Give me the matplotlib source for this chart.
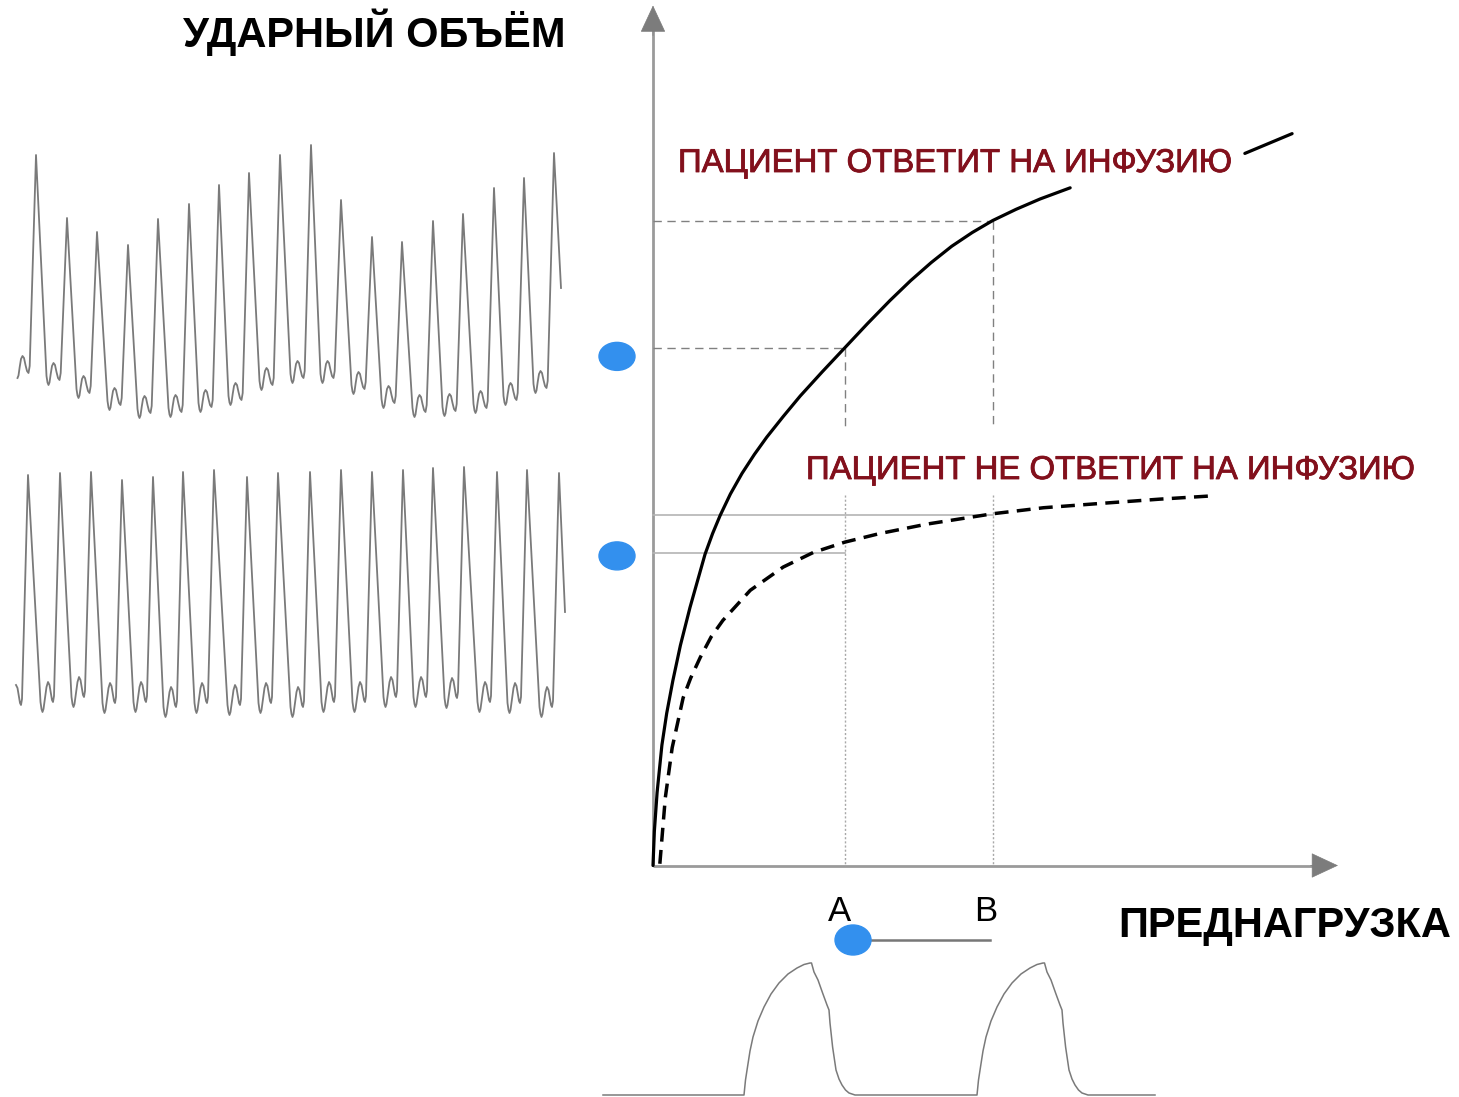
import numpy as np
import matplotlib
matplotlib.use("Agg")
import matplotlib.pyplot as plt
from matplotlib.patches import Ellipse
import matplotlib.patheffects as pe

plt.rcParams['font.family'] = ['Liberation Sans', 'DejaVu Sans']

# ------------------------------------------------------------------ data
# Frank–Starling curves (preload vs stroke volume, arbitrary units)
resp_x = [0.00, 0.02, 0.06, 0.13, 0.20, 0.29, 0.40, 0.54, 0.76, 0.87, 0.98,
          1.13, 1.30, 1.48, 1.66, 1.90, 2.15, 2.47, 2.80, 3.13, 3.46, 3.76,
          4.06, 4.36, 4.66, 4.96, 5.30, 5.65, 6.09, 8.64, 9.33]
resp_y = [0.00, 0.40, 0.85, 1.40, 1.77, 2.15, 2.56, 3.00, 3.62, 3.86, 4.07,
          4.32, 4.56, 4.78, 4.98, 5.22, 5.46, 5.74, 6.02, 6.30, 6.57, 6.80,
          7.01, 7.20, 7.36, 7.50, 7.63, 7.75, 7.88, 8.28, 8.51]
resp_hidden = (6.09, 8.64)          # part of curve hidden behind its label

nonresp_x = [0.10, 0.18, 0.28, 0.44, 0.55, 0.69, 0.85, 1.02, 1.42, 1.90, 2.34,
             2.80, 3.31, 4.00, 4.96, 5.70, 6.53, 7.40, 8.20]
nonresp_y = [0.02, 0.79, 1.37, 1.95, 2.18, 2.42, 2.66, 2.85, 3.20, 3.47, 3.64,
             3.76, 3.86, 3.97, 4.09, 4.16, 4.21, 4.26, 4.30]

preload_A = 2.80
preload_B = 4.96
sv_resp = [6.02, 7.50]        # responder SV at A, B
sv_nonresp = [3.63, 4.08]     # non-responder SV at A, B
sv_dots = [5.92, 3.60]        # blue markers beside the SV axis
axis_max = 10.0

labels = {
    'sv': 'УДАРНЫЙ ОБЪЁМ',
    'preload': 'ПРЕДНАГРУЗКА',
    'resp': 'ПАЦИЕНТ ОТВЕТИТ НА ИНФУЗИЮ',
    'nonresp': 'ПАЦИЕНТ НЕ ОТВЕТИТ НА ИНФУЗИЮ',
    'A': 'A',
    'B': 'B',
}

# arterial pressure waveform with respiratory variation (time, amplitude)
top_peak_t = [36, 67, 97, 128, 158, 189, 219, 249, 280, 311, 341, 372, 402,
              433, 463, 494, 524, 554]
top_peak_a = [275, 212, 198, 185, 211, 226, 245, 257, 275, 285, 230, 193, 188,
              209, 216, 242, 252, 277]
top_trough_a = [52, 45, 32, 20, 12, 13, 18, 25, 40, 47, 47, 36, 22, 13, 14,
                17, 25, 37]
top_end = (561, 142)
# beat shape before each systolic peak: (time offset, height above trough)
top_beat_dt = [-20.5, -19.5, -18.5, -17.5, -16.3, -15, -13.5, -12, -10.5, -9,
               -7.5, -6.3]
top_beat_da = [9, 2.5, 0, 2.5, 11, 19, 22, 20, 13, 7, 5, 12]

# arterial pressure waveform without variation
bot_peak_t = [28, 60, 91, 122, 153, 183, 214, 247, 278, 310, 341, 372, 403,
              433, 464, 497, 527, 559]
bot_peak_a = [255, 257, 258, 250, 253, 258, 260, 253, 257, 258, 260, 258, 260,
              262, 263, 258, 260, 257]
bot_trough_a = [15, 18, 23, 17, 18, 13, 17, 15, 17, 13, 18, 18, 23, 23, 22,
                18, 17, 13]
bot_end = (565, 118)
bot_beat_dt = [-19.5, -18.5, -17.5, -16.5, -15, -13.5, -12, -10.5, -9, -8,
               -7, -6]
bot_beat_da = [10, 3, 0, 3, 14, 25, 30, 27, 18, 12, 10, 16]

# airway pressure (ventilator) breaths
vent_breath_t = [154, 387]
vent_dt = [0, 1.5, 3.5, 6, 9, 14, 20, 27, 35, 44, 53, 60, 66, 67.5, 70, 74,
           78.6, 83, 85, 86, 88.6, 92, 95, 98, 101.5, 105, 111]
vent_p = [0, 15, 28, 44, 58, 74, 88, 101, 112, 121, 127, 130.5, 132, 132, 123,
          115, 102, 90, 85, 72, 48, 25, 16, 10, 5, 2, 0]
vent_span = (13, 565)

# ------------------------------------------------------------------ layout
W, H = 1459, 1097
X0, Y0 = 653.0, 865.5      # origin of the Frank–Starling axes (px)
SX, SY = 68.5, 86.0        # px per unit

fig = plt.figure(figsize=(W / 100, H / 100), dpi=100)
fig.patch.set_facecolor('white')

ax = fig.add_axes([0, 0, 1, 1])
ax.set_xlim(-X0 / SX, (W - X0) / SX)
ax.set_ylim(-(H - Y0) / SY, Y0 / SY)
ax.axis('off')

AXIS_GRAY = '#9a9a9a'
HEAD_GRAY = '#7c7c7c'
WAVE = '#7a7a7a'
RED = '#82101c'
BLUE = '#3390ee'

# axes with arrows
ax.plot([0, axis_max - 0.3], [0, 0], color=AXIS_GRAY, lw=2.0,
        solid_capstyle='butt')
ax.plot([0, 0], [0, axis_max - 0.25], color=AXIS_GRAY, lw=2.0,
        solid_capstyle='butt')
arrow_kw = dict(arrowstyle='-|>,head_length=0.9,head_width=0.42',
                color=HEAD_GRAY, lw=0.5, mutation_scale=20, shrinkA=0,
                shrinkB=0)
ax.annotate('', xy=(axis_max, 0), xytext=(axis_max - 0.4, 0),
            arrowprops=arrow_kw)
ax.annotate('', xy=(0, axis_max), xytext=(0, axis_max - 0.35),
            arrowprops=arrow_kw)

# guide lines
gap_top, gap_bot = 5.10, 4.31     # gap around the non-responder label
dash_kw = dict(color='#808080', lw=1.0, linestyle=(0, (6, 4)))
dot_kw = dict(color='#a8a8a8', lw=1.0, linestyle=(0, (1.5, 1.5)))
for px_, sv in zip([preload_A, preload_B], sv_resp):
    ax.plot([0, px_], [sv, sv], **dash_kw)
    ax.plot([px_, px_], [sv, gap_top], **dash_kw)
    ax.plot([px_, px_], [gap_bot, 0], **dot_kw)
for px_, sv in zip([preload_A, preload_B], sv_nonresp):
    ax.plot([0, px_], [sv, sv], color='#b4b4b4', lw=1.2)

# curves
rx = np.array(resp_x); ry = np.array(resp_y)
m1 = rx <= resp_hidden[0]
m2 = rx >= resp_hidden[1]
ax.plot(rx[m1], ry[m1], color='black', lw=2.3, solid_capstyle='round',
        solid_joinstyle='round')
ax.plot(rx[m2], ry[m2], color='black', lw=2.3, solid_capstyle='round')
ax.plot(nonresp_x, nonresp_y, color='black', lw=2.5,
        linestyle=(0, (4, 2.4)))

# blue markers
for sv in sv_dots:
    ax.add_patch(Ellipse((-36 / SX, sv), 36 / SX, 28 / SY, color=BLUE,
                         zorder=5))
ind_y = -(940 - Y0) / SY
ax.plot([preload_A + 0.12, preload_B - 0.04], [ind_y, ind_y], color='#777777',
        lw=1.8)
ax.add_patch(Ellipse((preload_A + 0.12, ind_y), 36 / SX, 30 / SY, color=BLUE,
                     zorder=5))


def ftxt(x, y, s, **kw):
    fig.text(x / W, 1 - y / H, s, **kw)


red_fx = [pe.withStroke(linewidth=0.6, foreground=RED)]
ftxt(183, 47, labels['sv'], fontsize=30, fontweight='bold', ha='left',
     va='baseline')
ftxt(1118, 937, labels['preload'], fontsize=30, fontweight='bold',
     ha='left', va='baseline')
ftxt(678, 172, labels['resp'], fontsize=23.7, color=RED, ha='left',
     va='baseline', path_effects=red_fx)
ftxt(806, 479, labels['nonresp'], fontsize=23.7, color=RED, ha='left',
     va='baseline', path_effects=red_fx)
ftxt(840, 921, labels['A'], fontsize=25, ha='center', va='baseline')
ftxt(986, 921, labels['B'], fontsize=25, ha='center', va='baseline')


# ------------------------------------------------------------------ waveforms
def arterial(peak_t, peak_a, trough_a, end, beat_dt, beat_da, start_t):
    ts, vs = [], []
    for pt, pa, tr in zip(peak_t, peak_a, trough_a):
        ts += [pt + d for d in beat_dt] + [pt]
        vs += [tr + d for d in beat_da] + [pa]
    ts.append(end[0]); vs.append(end[1])
    ts = np.array(ts, float); vs = np.array(vs, float)
    keep = ts >= start_t
    return ts[keep], vs[keep]


def wave_axes(left_px, top_px, w_px, h_px):
    a = fig.add_axes([left_px / W, 1 - (top_px + h_px) / H, w_px / W, h_px / H])
    a.set_xlim(0, w_px)
    a.set_ylim(0, h_px)
    a.axis('off')
    return a


axt = wave_axes(0, 130, 580, 300)
t, v = arterial(top_peak_t, top_peak_a, top_trough_a, top_end,
                top_beat_dt, top_beat_da, start_t=17.5)
axt.plot(t, v, color=WAVE, lw=1.3, solid_joinstyle='round')

axb = wave_axes(0, 450, 580, 280)
t, v = arterial(bot_peak_t, bot_peak_a, bot_trough_a, bot_end,
                bot_beat_dt, bot_beat_da, start_t=16)
axb.plot(t, v, color=WAVE, lw=1.3, solid_joinstyle='round')

axv = fig.add_axes([590 / W, 0, 580 / W, 217 / H])
axv.set_xlim(0, 580)
axv.set_ylim(-2, 215)
axv.axis('off')
vt = [vent_span[0]]
vp = [0]
for b in vent_breath_t:
    vt += [b + d for d in vent_dt]
    vp += list(vent_p)
vt.append(vent_span[1]); vp.append(0)
axv.plot(vt, vp, color=WAVE, lw=1.1, clip_on=False)

fig.savefig('out.png', dpi=100, facecolor='white')
